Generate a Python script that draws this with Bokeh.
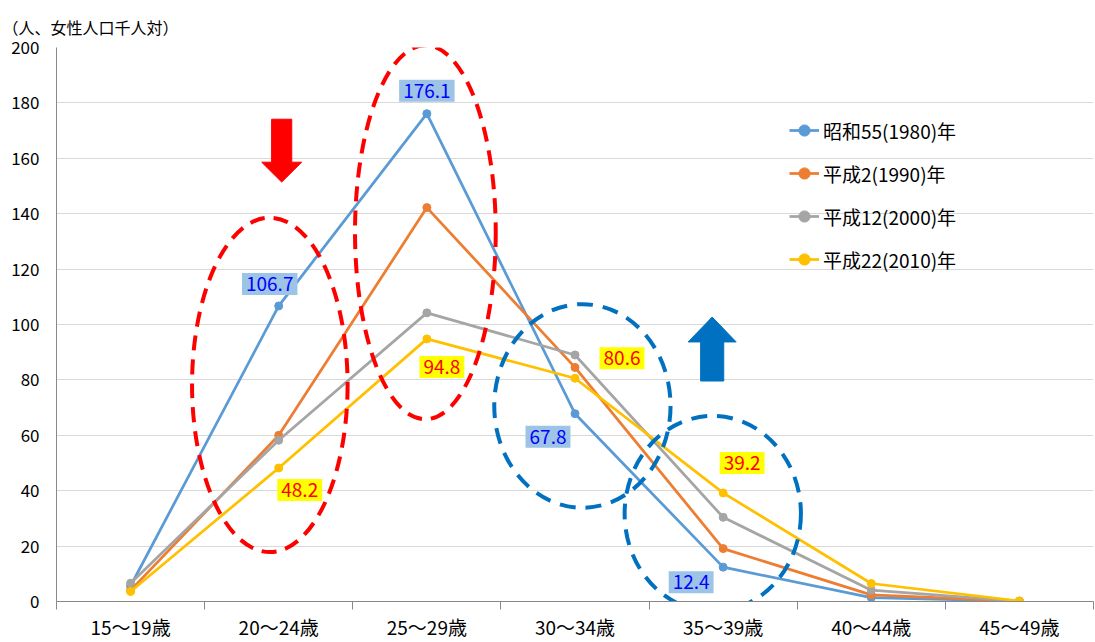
from bokeh.plotting import figure
from bokeh.models import (FixedTicker, Range1d, Label, Legend, LegendItem, Title)
from bokeh.embed import file_html
from bokeh.resources import INLINE

# ---- data ----
categories = ["15～19歳", "20～24歳", "25～29歳", "30～34歳", "35～39歳", "40～44歳", "45～49歳"]
series_names = ["昭和55(1980)年", "平成2(1990)年", "平成12(2000)年", "平成22(2010)年"]
rate_1980 = [5.6, 106.7, 176.1, 67.8, 12.4, 1.4, 0.1]
rate_1990 = [4.0, 60.0, 142.2, 84.5, 19.1, 2.4, 0.1]
rate_2000 = [6.6, 58.2, 104.2, 89.0, 30.4, 4.1, 0.1]
rate_2010 = [3.6, 48.2, 94.8, 80.6, 39.2, 6.5, 0.2]
y_ticks = [0, 20, 40, 60, 80, 100, 120, 140, 160, 180, 200]
unit_label = "（人、女性人口千人対）"

colors = ["#5B9BD5", "#ED7D31", "#A5A5A5", "#FFC000"]
FONT = "Noto Sans CJK JP"

xs = [i + 0.5 for i in range(len(categories))]

p = figure(width=1095, height=642, output_backend="svg", toolbar_location=None,
           x_range=Range1d(0, len(categories)), y_range=Range1d(0, 200),
           min_border_left=56, min_border_right=2, min_border_top=47, min_border_bottom=0)
p.outline_line_color = None
p.background_fill_color = "white"

# axes
p.xaxis.ticker = FixedTicker(ticks=xs, minor_ticks=list(range(len(categories) + 1)))
p.xaxis.major_label_overrides = {x: c for x, c in zip(xs, categories)}
p.xaxis.major_tick_line_color = None
p.xaxis.major_tick_out = 0
p.xaxis.minor_tick_in = 0
p.xaxis.minor_tick_out = 8
p.xaxis.minor_tick_line_color = "#888888"
p.xaxis.axis_line_color = "#888888"
p.xaxis.major_label_text_font = FONT
p.xaxis.major_label_text_font_size = "19px"
p.xaxis.major_label_text_color = "black"
p.xaxis.major_label_standoff = 3
p.xgrid.grid_line_color = None

p.yaxis.ticker = FixedTicker(ticks=y_ticks)
p.yaxis.major_tick_line_color = None
p.yaxis.major_tick_out = 0
p.yaxis.minor_tick_line_color = None
p.yaxis.axis_line_color = "#888888"
p.yaxis.major_label_text_font = FONT
p.yaxis.major_label_text_font_size = "17px"
p.yaxis.major_label_text_color = "black"
p.yaxis.major_label_standoff = 17
p.ygrid.grid_line_color = "#D9D9D9"
p.ygrid.grid_line_width = 1

# unit label
t = Title(text=unit_label, align="left", offset=-54, standoff=17,
          text_font=FONT, text_font_size="16px", text_font_style="normal", text_color="black")
p.add_layout(t, "above")

# lines
items = []
for name, vals, col in zip(series_names, [rate_1980, rate_1990, rate_2000, rate_2010], colors):
    l = p.line(xs, vals, line_color=col, line_width=2.75)
    s = p.scatter(xs, vals, size=8, fill_color=col, line_color=col)
    items.append(LegendItem(label=name, renderers=[l, s]))

legend = Legend(items=items, location=(733, 328), orientation="vertical",
                label_text_font=FONT, label_text_font_size="19px", label_text_color="black",
                label_height=28, glyph_height=28, glyph_width=30, spacing=15,
                padding=0, margin=0, label_standoff=4,
                background_fill_alpha=0, border_line_color=None)
p.add_layout(legend)

# annotation ellipses (red = decreases, blue = increases)
ell_red_x = [1.44, 2.49]
ell_red_y = [78.2, 133.3]
ell_red_w = [1.05, 0.95]
ell_red_h = [120.7, 135.0]
ell_blue_x = [3.55, 4.43]
ell_blue_y = [70.6, 31.7]
ell_blue_w = [1.19, 1.19]
ell_blue_h = [73.5, 70.6]
p.ellipse(ell_red_x, ell_red_y, width=ell_red_w, height=ell_red_h, fill_color=None,
          line_color="#FF0000", line_width=4, line_dash="15 9")
p.ellipse(ell_blue_x, ell_blue_y, width=ell_blue_w, height=ell_blue_h, fill_color=None,
          line_color="#0070C0", line_width=4, line_dash="16 10")

# arrows
def arrow(cx, y_tail, y_head_base, y_tip, half_shaft, half_head):
    xs_ = [cx - half_shaft, cx + half_shaft, cx + half_shaft, cx + half_head, cx,
           cx - half_head, cx - half_shaft]
    ys_ = [y_tail, y_tail, y_head_base, y_head_base, y_tip, y_head_base, y_head_base]
    return xs_, ys_

ax, ay = arrow(1.52, 174.1, 158.6, 151.4, 0.068, 0.135)
p.patch(ax, ay, fill_color="#FF0000", line_color="#FF0000")
bx, by = arrow(4.426, 79.6, 93.7, 102.7, 0.078, 0.162)
p.patch(bx, by, fill_color="#0070C0", line_color="#0070C0")

# data labels
label_idx = [1, 2, 3, 4]
off_1980 = [(-9, 22), (0, 23), (-27, -23), (-32, -15)]
off_2010 = [(21, -22), (15, -28), (47, 20), (19, 30)]
for i, (dx, dy) in zip(label_idx, off_1980):
    p.add_layout(Label(x=xs[i], y=rate_1980[i], text=f"{rate_1980[i]:.1f}", x_offset=dx, y_offset=dy,
                       text_align="center", text_baseline="middle", text_font=FONT,
                       text_font_size="19px", text_color="#0000FF",
                       background_fill_color="#9DC3E6", padding=4))
for i, (dx, dy) in zip(label_idx, off_2010):
    p.add_layout(Label(x=xs[i], y=rate_2010[i], text=f"{rate_2010[i]:.1f}", x_offset=dx, y_offset=dy,
                       text_align="center", text_baseline="middle", text_font=FONT,
                       text_font_size="19px", text_color="#FF0000",
                       background_fill_color="#FFFF00", padding=4))

open("out.html", "w").write(file_html(p, INLINE))
